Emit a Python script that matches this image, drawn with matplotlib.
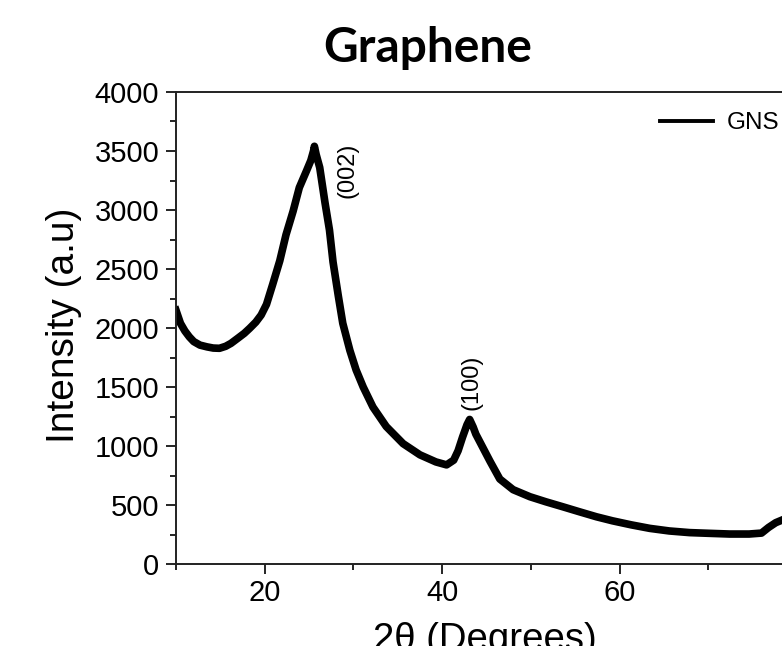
import matplotlib
matplotlib.use("Agg")
import matplotlib.pyplot as plt
from matplotlib.ticker import MultipleLocator

two_theta = [10.0, 10.5, 11.0, 11.5, 12.0, 12.7, 13.5, 14.2, 14.9, 15.6, 16.2, 17.0,
             17.7, 18.3, 19.0, 19.6, 20.2, 20.9, 21.7, 22.4, 23.2, 23.9, 24.7, 25.2,
             25.5, 25.6, 25.8, 26.2, 26.8, 27.3, 27.7, 28.3, 28.8, 29.6, 30.3, 31.1,
             32.2, 33.7, 35.6, 37.5, 39.3, 40.5, 41.3, 41.8, 42.3, 42.8, 43.1, 43.5,
             43.8, 44.6, 45.4, 46.5, 48.0, 49.9, 51.7, 53.6, 55.5, 57.4, 59.2, 61.3,
             63.4, 65.6, 67.9, 70.1, 72.4, 74.6, 76.0, 76.8, 77.6, 78.3]
intensity = [2150, 2040, 1975, 1925, 1885, 1855, 1840, 1830, 1828, 1845, 1870, 1915,
             1955, 1997, 2050, 2110, 2200, 2370, 2570, 2790, 2990, 3190, 3330, 3420,
             3500, 3540, 3470, 3360, 3060, 2830, 2560, 2270, 2040, 1810, 1645, 1500,
             1330, 1165, 1020, 925, 865, 840, 880, 960, 1075, 1180, 1225, 1160,
             1100, 985, 870, 720, 630, 570, 527, 485, 442, 400, 366, 332,
             302, 280, 266, 260, 254, 254, 262, 310, 350, 372]

series_label = "GNS"
title = "Graphene"
peak_labels = ["(002)", "(100)"]
peak_pos = [(29.35, 3333), (43.3, 1540)]

W, H = 782, 646
fig = plt.figure(figsize=(W / 100, H / 100), dpi=100)
left, right, top, bottom = 176, 797, 92, 564
ax = fig.add_axes([left / W, (H - bottom) / H, (right - left) / W, (bottom - top) / H])

tick_font = "Liberation Sans"
ax.plot(two_theta, intensity, color="black", lw=5.5, solid_joinstyle="round",
        label=series_label)
ax.set_xlim(10, 80)
ax.set_ylim(0, 4000)
ax.xaxis.set_major_locator(MultipleLocator(20))
ax.xaxis.set_minor_locator(MultipleLocator(10))
ax.yaxis.set_major_locator(MultipleLocator(500))
ax.yaxis.set_minor_locator(MultipleLocator(250))
ax.tick_params(which="major", direction="out", length=7, width=1.2, labelsize=21)
ax.tick_params(which="minor", direction="out", length=4.5, width=1.2)
ax.tick_params(axis="x", which="major", pad=4)
ax.tick_params(axis="y", which="major", pad=5)
for lab in ax.get_xticklabels() + ax.get_yticklabels():
    lab.set_fontfamily(tick_font)
for sp in ax.spines.values():
    sp.set_linewidth(1.4)
    sp.set_color("#222222")

for txt, (x, y) in zip(peak_labels, peak_pos):
    ax.text(x, y, txt, rotation=90, ha="center", va="center",
            fontsize=17, family=tick_font)

leg = ax.legend(loc="center left", bbox_to_anchor=((660 - left) / (right - left),
                (bottom - 123) / (bottom - top)),
                frameon=False, borderpad=0, borderaxespad=0, handlelength=2.2,
                handletextpad=0.55, prop={"family": tick_font, "size": 17.5})
for ln in leg.get_lines():
    ln.set_linewidth(2.8)

fig.text(428 / W, (H - 62) / H, title, ha="center", va="baseline",
         fontsize=34.5, fontweight="bold", family="Lato")
fig.text(64 / W, (H - 325) / H, "Intensity (a.u)", rotation=90, ha="center",
         va="center", fontsize=28, family=tick_font)
fig.text(485 / W, (H - 650) / H, "2θ (Degrees)", ha="center", va="baseline",
         fontsize=27.6, family=tick_font)

fig.savefig("out.png", dpi=100)
